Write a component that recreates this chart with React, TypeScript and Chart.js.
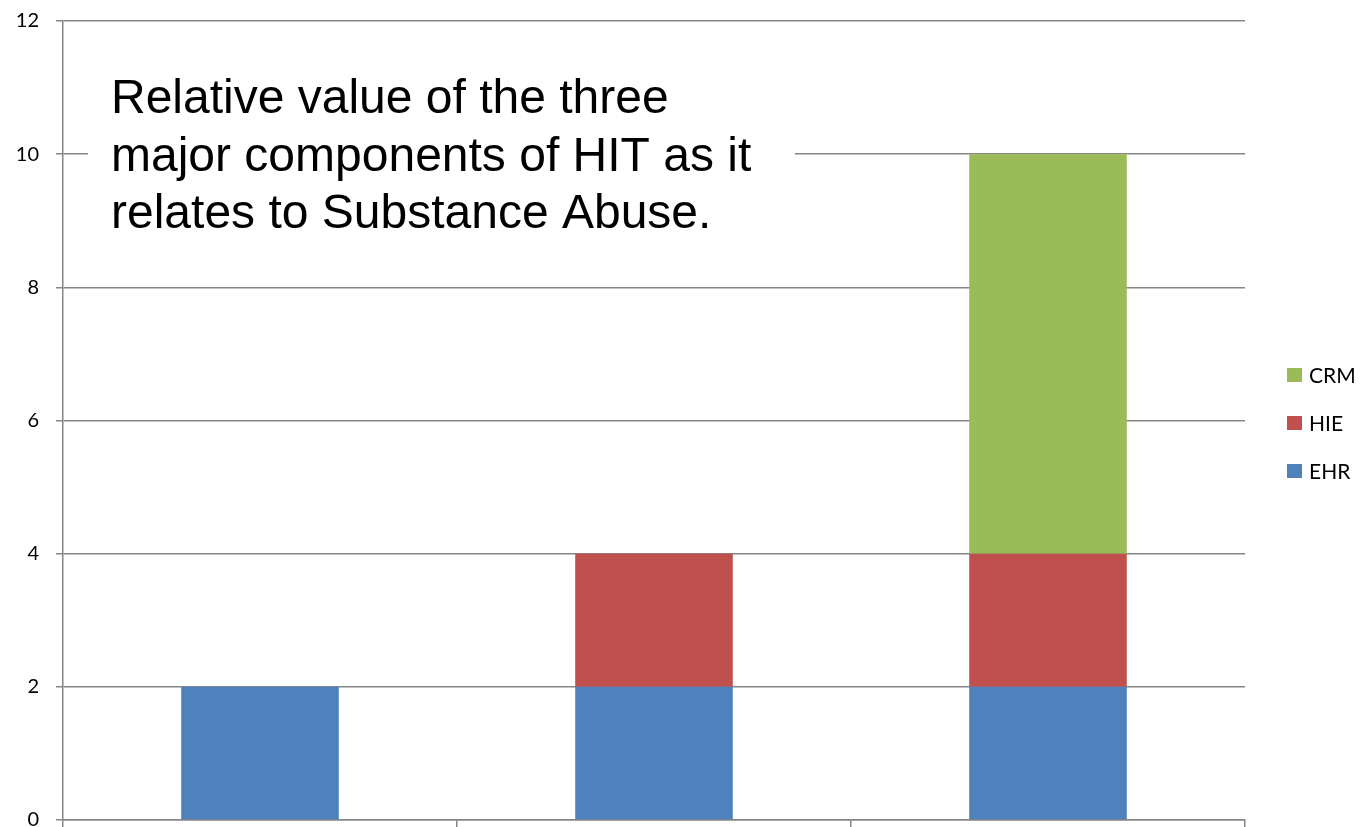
import React, { useEffect, useRef } from "react";
import { Chart, registerables } from "chart.js";

Chart.register(...registerables);

const categories = ["1", "2", "3"];
const seriesNames = ["EHR", "HIE", "CRM"];
const ehrValues = [2, 2, 2];
const hieValues = [0, 2, 2];
const crmValues = [0, 0, 6];
const seriesColors = ["#4F81BD", "#C0504D", "#9BBB59"];
const titleLines = [
  "Relative value of the three",
  "major components of HIT as it",
  "relates to Substance Abuse.",
];
const yMin = 0;
const yMax = 12;
const yStep = 2;

const GRID = "#868686";

const overlayPlugin = {
  id: "overlay",
  afterDraw(chart: any) {
    const ctx = chart.ctx;
    ctx.save();
    // title text box
    ctx.fillStyle = "#ffffff";
    ctx.fillRect(88, 70, 795 - 88, 175);
    ctx.fillStyle = "#000000";
    ctx.font = '48px "Liberation Sans", Arial, sans-serif';
    ctx.textAlign = "left";
    ctx.textBaseline = "alphabetic";
    const baselines = [113, 170.5, 228];
    titleLines.forEach((t, i) => ctx.fillText(t, 111, baselines[i]));

    // legend (reverse order)
    const ds = chart.data.datasets.slice().reverse();
    ctx.font = '21px Lato, "Open Sans", sans-serif';
    ctx.textBaseline = "middle";
    ds.forEach((d: any, i: number) => {
      const cy = 375 + i * 48;
      ctx.fillStyle = d.backgroundColor;
      ctx.fillRect(1287, cy - 7, 15, 14);
      ctx.fillStyle = "#000000";
      ctx.fillText(d.label, 1309, cy + 1);
    });
    ctx.restore();
  },
};

export default function App() {
  const ref = useRef<HTMLCanvasElement | null>(null);
  useEffect(() => {
    if (!ref.current) return;
    const valueSets = [ehrValues, hieValues, crmValues];
    const chart = new Chart(ref.current, {
      type: "bar",
      data: {
        labels: categories,
        datasets: seriesNames.map((name, i) => ({
          label: name,
          data: valueSets[i],
          backgroundColor: seriesColors[i],
          borderWidth: 0,
          barPercentage: 0.4,
          categoryPercentage: 1,
        })),
      },
      options: {
        animation: false,
        responsive: false,
        layout: { padding: { top: 21, right: 117, bottom: 0, left: 0 } },
        plugins: { legend: { display: false }, tooltip: { enabled: false } },
        scales: {
          x: {
            stacked: true,
            offset: true,
            ticks: { display: false },
            grid: {
              offset: true,
              drawOnChartArea: false,
              drawTicks: true,
              tickLength: 7,
              color: GRID,
              lineWidth: 1.5,
            },
            border: { color: GRID, width: 1.5 },
            afterFit: (s: any) => {
              s.height = 7;
              s.paddingLeft = 0;
              s.paddingRight = 0;
            },
          },
          y: {
            stacked: true,
            min: yMin,
            max: yMax,
            ticks: {
              stepSize: yStep,
              color: "#000000",
              padding: 17,
              font: { family: 'Lato, "Open Sans", sans-serif', size: 20 },
            },
            grid: { color: GRID, lineWidth: 1.5, tickLength: 7 },
            border: { color: GRID, width: 1.5 },
            afterFit: (s: any) => {
              s.width = 63;
              s.paddingTop = 0;
              s.paddingBottom = 0;
            },
          },
        },
      },
      plugins: [overlayPlugin],
    });
    return () => chart.destroy();
  }, []);
  return (
    <div style={{ position: "absolute", left: 0, top: 0, width: 1362, height: 827, background: "#fff" }}>
      <canvas ref={ref} width={1362} height={827} style={{ display: "block" }} />
    </div>
  );
}
